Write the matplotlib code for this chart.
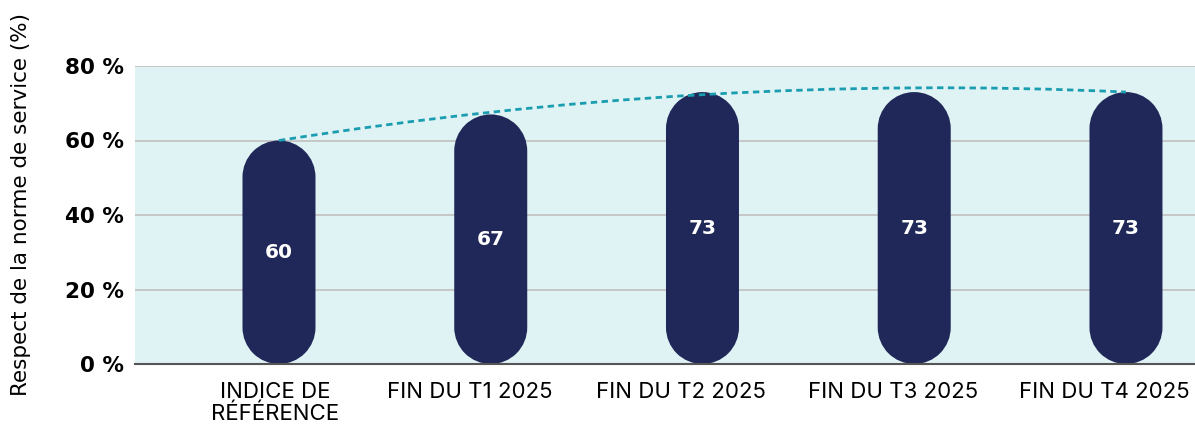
import numpy as np
import matplotlib
matplotlib.use("Agg")
import matplotlib.pyplot as plt
from matplotlib.patches import PathPatch
from matplotlib.path import Path

categories = ["INDICE DE\nRÉFÉRENCE", "FIN DU T1 2025", "FIN DU T2 2025",
              "FIN DU T3 2025", "FIN DU T4 2025"]
values = [60, 67, 73, 73, 73]
yticks = [0, 20, 40, 60, 80]
ylabel = "Respect de la norme de service (%)"

navy = "#1f2858"
teal = "#1a9db0"
bg = "#dff2f4"

plt.rcParams['font.family'] = ['DejaVu Sans']

fig = plt.figure(figsize=(11.95, 4.29), dpi=100)
ax = fig.add_axes([135 / 1195, (429 - 364) / 429, 1 - 135 / 1195, (364 - 66) / 429])
ax.set_facecolor(bg)
xmin, xmax = -0.68, 4.326
ax.set_xlim(xmin, xmax)
ax.set_ylim(0, 80)

# pixel scale so the pill ends come out round
W = 1195 * ax.get_position().width
H = 429 * ax.get_position().height
px_x = W / (xmax - xmin)
px_y = H / 80
w = 73 / px_x
ry = (w / 2) * px_x / px_y


def pill(xc, top):
    a_top = Path.arc(0, 180)
    a_bot = Path.arc(180, 360)
    vt = a_top.vertices * [w / 2, ry] + [xc, top - ry]
    vb = a_bot.vertices * [w / 2, ry] + [xc, ry]
    cb = a_bot.codes.copy()
    cb[0] = Path.LINETO
    verts = np.vstack([vt, vb, vt[:1]])
    codes = np.concatenate([a_top.codes, cb, [Path.CLOSEPOLY]])
    return Path(verts, codes)


x = np.arange(len(values))
for xi, v in zip(x, values):
    ax.add_patch(PathPatch(pill(xi, v), fc=navy, ec="none", zorder=3))
    ax.text(xi, v / 2, str(v), color="white", fontsize=14.5, fontweight="bold",
            ha="center", va="center", zorder=4)

# smooth trend curve from first to last bar top
p0 = (x[0], values[0])
p3 = (x[-1], values[-1])
verts = [p0, (1.33, 72), (2.67, 76.5), p3]
path = Path(verts, [Path.MOVETO, Path.CURVE4, Path.CURVE4, Path.CURVE4])
ax.add_patch(PathPatch(path, fill=False, ec=teal, lw=2.0,
                       linestyle=(0, (2.3, 1.6)), zorder=5))

ax.set_yticks(yticks)
ax.set_yticklabels([f"{t} %" for t in yticks], fontsize=15.5, fontweight="bold")
# labels sit a bit left of the bars in the original
label_shift = [0.02, 0.1, 0.1, 0.1, 0.1]
ax.set_xticks(x - np.array(label_shift))
ax.set_xticklabels(categories, fontsize=16, linespacing=1.1, va="top",
                   family=['Inter', 'DejaVu Sans'])
ax.tick_params(axis="both", length=0)
ax.tick_params(axis="y", pad=8)
ax.tick_params(axis="x", pad=13)
ax.grid(axis="y", color="#c4c4c4", lw=1.3, zorder=1)
ax.set_axisbelow(True)
for s in ["left", "right", "top"]:
    ax.spines[s].set_visible(False)
ax.spines["bottom"].set_color("#555555")
ax.spines["bottom"].set_linewidth(1.5)
ax.spines["bottom"].set_zorder(6)

fig.text(21 / 1195, (429 - 205) / 429, ylabel, rotation=90, fontsize=15.5,
         ha="center", va="center")

fig.savefig("out.png", dpi=100)
